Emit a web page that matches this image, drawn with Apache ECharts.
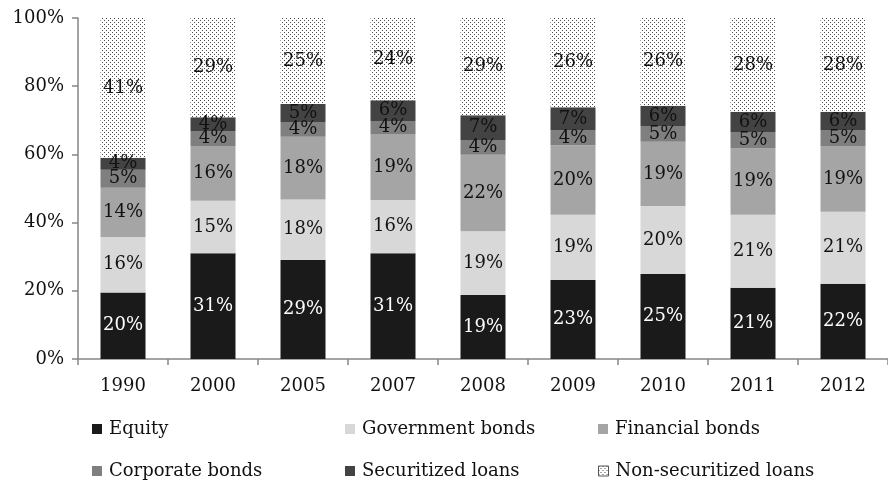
<!DOCTYPE html>
<html>
<head>
<meta charset="utf-8">
<script src="https://cdn.jsdelivr.net/npm/echarts@6/dist/echarts.min.js"></script>
<style>
  html, body { margin: 0; padding: 0; background: #fff; }
  #chart { width: 888px; height: 480px; }
</style>
</head>
<body>
<div id="chart"></div>
<script>
// Portfolio composition by year (share of total, %)
const years = ['1990', '2000', '2005', '2007', '2008', '2009', '2010', '2011', '2012'];
const equity        = [19.5, 31.0, 29.0, 31.0, 18.8, 23.2, 24.9, 20.9, 22.1];
const governmentBds = [16.3, 15.4, 17.8, 15.6, 18.7, 19.1, 20.0, 21.4, 21.1];
const financialBds  = [14.4, 16.1, 18.4, 19.4, 22.4, 20.4, 18.8, 19.4, 19.1];
const corporateBds  = [5.3, 4.2, 4.3, 3.8, 4.3, 4.3, 4.6, 4.9, 4.7];
const securitized   = [3.5, 4.2, 5.3, 6.1, 7.3, 6.8, 6.0, 5.9, 5.5];
const nonSecuritized = [41.0, 29.1, 25.2, 24.1, 28.5, 26.2, 25.7, 27.5, 27.5];
const yTicks = ['0%', '20%', '40%', '60%', '80%', '100%'];

const FONT = 'DejaVu Serif';

// Dotted fill for the non-securitized loans segment
function dotPattern() {
  const c = document.createElement('canvas');
  c.width = 4; c.height = 4;
  const ctx = c.getContext('2d');
  ctx.fillStyle = '#ffffff';
  ctx.fillRect(0, 0, 4, 4);
  ctx.fillStyle = '#4a4a4a';
  ctx.fillRect(0, 0, 1, 1);
  ctx.fillRect(2, 2, 1, 1);
  return { image: c, repeat: 'repeat' };
}

const seriesDefs = [
  { name: 'Equity', data: equity, color: '#1a1a1a', text: '#ffffff' },
  { name: 'Government bonds', data: governmentBds, color: '#d8d8d8', text: '#111' },
  { name: 'Financial bonds', data: financialBds, color: '#a5a5a5', text: '#111' },
  { name: 'Corporate bonds', data: corporateBds, color: '#7f7f7f', text: '#111' },
  { name: 'Securitized loans', data: securitized, color: '#434343', text: '#111' },
  { name: 'Non-securitized loans', data: nonSecuritized, color: dotPattern(), text: '#111' }
];

const series = seriesDefs.map(s => ({
  name: s.name,
  type: 'bar',
  stack: 'total',
  barWidth: '50%',
  data: s.data,
  itemStyle: { color: s.color },
  label: {
    show: true,
    position: 'inside',
    color: s.text,
    fontFamily: FONT,
    fontSize: 18,
    formatter: p => Math.round(p.value) + '%'
  },
  emphasis: { disabled: true }
}));

// Legend laid out as a 3 x 2 grid
const legendPos = [
  { name: 'Equity', left: 92, top: 420 },
  { name: 'Government bonds', left: 345, top: 420 },
  { name: 'Financial bonds', left: 598, top: 420 },
  { name: 'Corporate bonds', left: 92, top: 462 },
  { name: 'Securitized loans', left: 345, top: 462 },
  { name: 'Non-securitized loans', left: 598, top: 462 }
];
const legends = legendPos.map(l => ({
  left: l.left,
  top: l.top,
  padding: 0,
  orient: 'horizontal',
  itemWidth: 10,
  itemHeight: 10,
  icon: 'rect',
  selectedMode: false,
  data: [l.name === 'Non-securitized loans'
    ? { name: l.name, itemStyle: { borderColor: '#555', borderWidth: 1 } }
    : l.name],
  textStyle: { fontFamily: FONT, fontSize: 18, color: '#111', padding: [0, 0, 0, 2] }
}));

const chart = echarts.init(document.getElementById('chart'), null, { renderer: 'canvas' });
chart.setOption({
  animation: false,
  backgroundColor: '#ffffff',
  grid: { left: 78, right: 0, top: 18, bottom: 121, containLabel: false },
  legend: legends,
  xAxis: {
    type: 'category',
    data: years,
    axisLine: { lineStyle: { color: '#868686', width: 1.5 } },
    axisTick: { show: true, length: 6, lineStyle: { color: '#868686', width: 1.5 } },
    axisLabel: { fontFamily: FONT, fontSize: 18, color: '#111', margin: 18 }
  },
  yAxis: {
    type: 'value',
    min: 0,
    max: 100,
    interval: 20,
    splitLine: { show: false },
    axisLine: { show: true, lineStyle: { color: '#868686', width: 1.5 } },
    axisTick: { show: true, length: 6, lineStyle: { color: '#868686', width: 1.5 } },
    axisLabel: {
      fontFamily: FONT, fontSize: 18, color: '#111', margin: 14,
      formatter: v => yTicks[v / 20]
    }
  },
  series: series
});
</script>
</body>
</html>
